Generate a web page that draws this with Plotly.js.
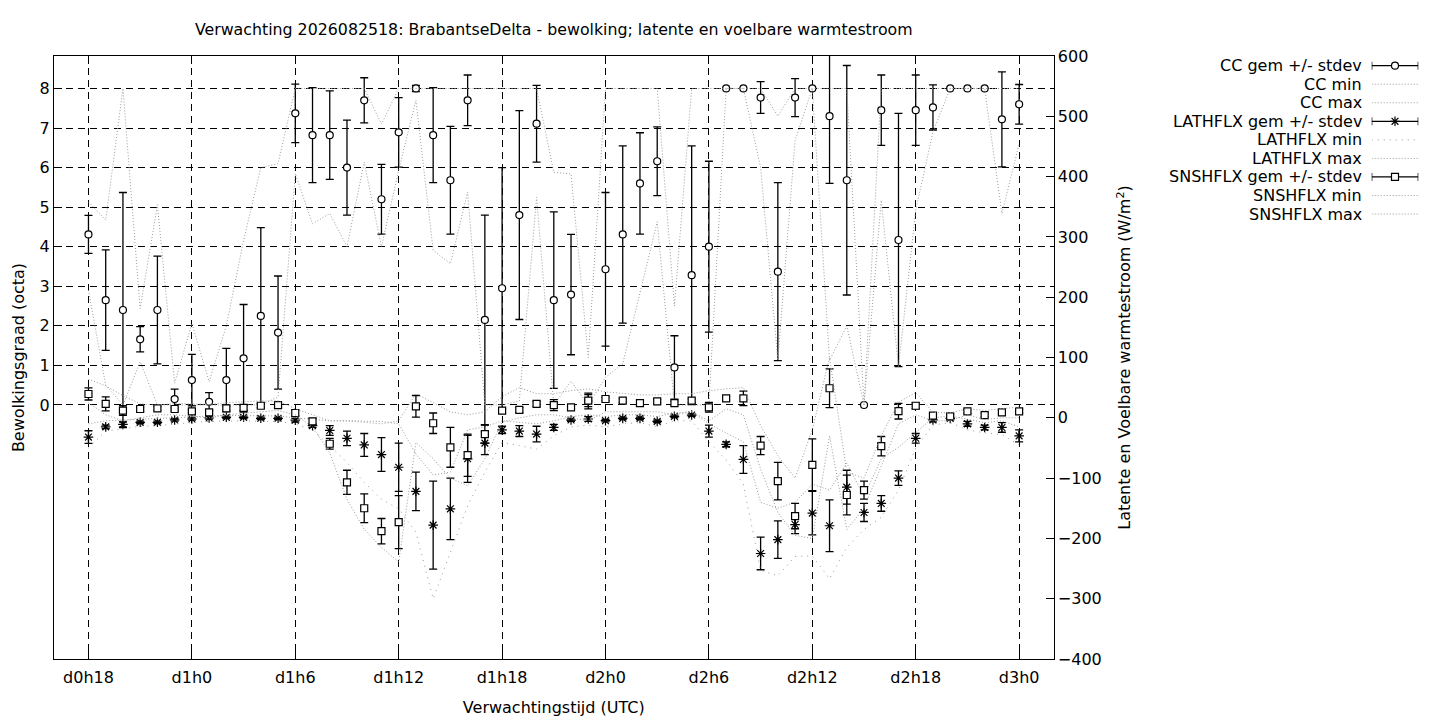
<!DOCTYPE html>
<html>
<head>
<meta charset="utf-8">
<script src="https://cdn.plot.ly/plotly-3.0.1.min.js"></script>
<style>
  html, body { margin: 0; padding: 0; background: #fff; }
  #plot { width: 1440px; height: 720px; }
</style>
</head>
<body>
<div id="plot"></div>
<script>
// forecast hours since d0h0
const hours = [18, 19, 20, 21, 22, 23, 24, 25, 26, 27, 28, 29,
  30, 31, 32, 33, 34, 35, 36, 37, 38, 39, 40, 41,
  42, 43, 44, 45, 46, 47, 48, 49, 50, 51, 52, 53,
  54, 55, 56, 57, 58, 59, 60, 61, 62, 63, 64, 65,
  66, 67, 68, 69, 70, 71, 72];

const xTickVals = [18, 24, 30, 36, 42, 48, 54, 60, 66, 72];
const xTickText = ['d0h18', 'd1h0', 'd1h6', 'd1h12', 'd1h18', 'd2h0', 'd2h6', 'd2h12', 'd2h18', 'd3h0'];
const ccTickVals = [0, 1, 2, 3, 4, 5, 6, 7, 8];
const fluxTickVals = [-400, -300, -200, -100, 0, 100, 200, 300, 400, 500, 600];

// bewolking (octa)
const ccMean = [4.31, 2.65, 2.40, 1.66, 2.40, 0.15, 0.63, 0.08, 0.63, 1.18, 2.25, 1.83,
  7.37, 6.82, 6.82, 6.00, 7.70, 5.20, 6.89, 8.00, 6.82, 5.68, 7.70, 2.15,
  2.95, 4.80, 7.11, 2.65, 2.79, 0.10, 3.43, 4.31, 5.60, 6.16, 0.95, 3.28,
  4.00, 8.00, 8.00, 7.77, 3.37, 7.77, 8.00, 7.30, 5.68, 0.00, 7.45, 4.17,
  7.45, 7.52, 8.00, 8.00, 8.00, 7.22, 7.60];
const ccSd = [0.48, 1.27, 2.97, 0.32, 1.36, 0.25, 0.65, 0.23, 0.80, 1.36, 2.23, 1.43,
  0.74, 1.20, 1.12, 1.20, 0.57, 0.88, 0.88, 0.08, 1.20, 1.36, 0.64, 2.65,
  3.05, 2.64, 0.97, 2.23, 1.52, 0.20, 1.94, 2.24, 1.28, 0.87, 0.80, 3.27,
  2.16, 0, 0, 0.40, 2.25, 0.48, 0, 1.70, 2.90, 0, 0.89, 3.20,
  0.89, 0.57, 0, 0, 0, 1.20, 0.50];
const ccMin = [2.90, 0.50, 0.00, 1.09, 0.00, 0.00, 0.00, 0.00, 0.00, 0.00, 0.00, 0.20,
  5.85, 4.58, 4.84, 4.00, 6.14, 4.00, 5.93, 7.70, 3.91, 3.57, 5.38, 0.00,
  0.00, 0.10, 5.25, 0.00, 0.60, 0.00, 0.70, 1.04, 2.85, 4.63, 0.00, 0.00,
  0.00, 8.00, 8.00, 6.00, 1.13, 6.68, 8.00, 1.13, 2.00, 0.00, 5.17, 0.96,
  4.92, 6.90, 8.00, 8.00, 8.00, 4.84, 6.60];
const ccMax = [5.13, 4.67, 8.00, 2.44, 5.06, 0.55, 2.06, 0.59, 2.00, 4.16, 6.00, 6.10,
  8.00, 8.00, 8.00, 8.00, 8.00, 7.10, 8.00, 8.00, 8.00, 8.00, 8.00, 8.00,
  8.00, 8.00, 8.00, 5.88, 5.84, 1.20, 8.00, 8.00, 8.00, 8.00, 2.50, 8.00,
  8.00, 8.00, 8.00, 8.00, 7.30, 8.00, 8.00, 8.00, 8.00, 0.00, 8.00, 8.00,
  8.00, 8.00, 8.00, 8.00, 8.00, 8.00, 8.00];

// latente warmtestroom (W/m2)
const lhMean = [-32, -15, -11, -7.5, -7.5, -3.6, -2, -0.3, 0.8, 0.8, -0.8, -0.8,
  -4, -13, -21, -34, -45, -61, -82, -122, -178, -151, -68, -42,
  -20, -22, -27, -16, -3.7, -2, -4.8, -0.9, -0.9, -5.9, 2.4, 4.6,
  -22, -44, -69, -225, -202, -177, -158, -179, -115, -157, -142, -100,
  -34, -3.6, -0.9, -10, -16, -16, -30];
const lhSd = [10.5, 3, 4, 2, 2, 2, 2, 2, 2, 2, 2, 2,
  3, 3, 8, 12, 19, 28, 40, 32, 73, 51, 39, 19,
  6, 9, 13, 5, 2, 4, 2, 2, 2, 2, 2, 2,
  10, 4, 23, 27, 31, 15, 36, 43, 28, 15, 13, 12,
  8, 3, 2, 4, 4, 8, 10];
const lhMin = [-50, -22, -18, -14, -13, -10, -8, -6, -5, -5, -6, -6,
  -10, -20, -46, -74, -107, -135, -151, -190, -300, -223, -146, -90,
  -41, -46, -52, -30, -15, -12, -15, -10, -8, -15, -5, -5,
  -40, -70, -110, -253, -262, -230, -229, -267, -215, -185, -165, -120,
  -50, -12, -8, -20, -25, -28, -45];
const lhMax = [-10, -5, -4, -2, -1, 0, 2, 3, 4, 4, 3, 3,
  0, -3, -5, -5, -6, -6, -10, -60, -95, -90, -20, -15,
  -5, -8, -10, -5, 2, 5, 2, 5, 5, 2, 8, 10,
  -10, -25, -40, -140, -150, -140, -110, -120, -75, -130, -68, -49,
  -24, 0, 3, -3, -8, -5, -15];

// voelbare warmtestroom (W/m2)
const snMean = [39.5, 23, 12, 14.6, 15.7, 14.6, 10.8, 9.1, 15.7, 16.3, 20, 21,
  8, -6, -43, -107, -150, -188, -173, 19, -9, -49, -62, -27,
  12, 13, 23, 21, 17.4, 28.4, 31.2, 28.4, 24.5, 27.3, 24.5, 28.4,
  17.4, 32.3, 32.3, -46, -105, -163, -78, 49, -128, -120, -47, 11,
  20, 3.5, 2.4, 10.8, 4.6, 9.1, 10.8];
const snSd = [10, 11.6, 8, 3, 3, 3, 3, 3, 3, 4, 3, 3,
  5, 5, 9, 20, 24, 21, 44, 18, 17, 33, 35, 15,
  4, 4, 4, 9, 3, 10, 3, 3, 3, 3, 3, 3,
  8, 3, 12, 15, 31, 21, 43, 32, 33, 15, 16, 13,
  5, 3, 3, 3, 3, 3, 3];
const snMin = [25, 5, -5, 0, 5, 5, 2, 0, 5, 8, 10, 12,
  5, -15, -58, -135, -185, -215, -239, -41, -68, -100, -113, -68,
  -7, 0, 5, 5, 0, -5, 10, 10, 10, 10, 5, 10,
  -5, 15, 5, -85, -157, -195, -200, -30, -185, -150, -80, -10,
  5, -5, -5, 5, -3, 0, 0];
const snMax = [64, 53, 37, 23, 21, 24, 23, 22, 25, 27, 28, 28,
  15, 5, -5, -5, -8, -10, -5, 40, 25, 10, 5, 10,
  35, 50, 40, 40, 45, 48, 43, 40, 38, 38, 40, 40,
  45, 48, 50, -13, -63, -100, -20, 100, -90, -100, -30, 26,
  42, 9, 8, 15, 12, 15, 18];

const legendLabels = ['CC gem +/- stdev', 'CC min', 'CC max',
  'LATHFLX gem +/- stdev', 'LATHFLX min', 'LATHFLX max',
  'SNSHFLX gem +/- stdev', 'SNSHFLX min', 'SNSHFLX max'];

const FONT = 'DejaVu Sans, sans-serif';
const GRAY = '#9a9a9a';
const FINE = '1px,2px';
const SPARSE = '1px,5px';

// pixel layout of the gnuplot frame
const W = 1440, H = 720;
const L = 54, R = 10, T = 56, B = 61;
const plotW = W - L - R, plotH = H - T - B;
const xDomEnd = (1053.6 - L) / plotW;

function markerFor(symbol) {
  if (symbol === 'asterisk-open') {
    return { symbol, size: 8, color: '#000', line: { color: '#000', width: 1.2 } };
  }
  return { symbol, size: 7, color: '#fff', line: { color: '#000', width: 1.2 } };
}

function meanTrace(y, sd, symbol, yaxis) {
  return {
    type: 'scatter', mode: 'markers', x: hours, y, yaxis,
    marker: markerFor(symbol),
    error_y: { type: 'data', array: sd, visible: true, color: '#000', thickness: 1.3, width: 4 },
    hoverinfo: 'skip', showlegend: false
  };
}

function rangeTrace(y, dash, yaxis) {
  return {
    type: 'scatter', mode: 'lines', x: hours, y, yaxis,
    line: { color: GRAY, width: 1, dash },
    hoverinfo: 'skip', showlegend: false
  };
}

const data = [
  meanTrace(ccMean, ccSd, 'circle', 'y'),
  rangeTrace(ccMin, FINE, 'y'),
  rangeTrace(ccMax, FINE, 'y'),
  meanTrace(lhMean, lhSd, 'asterisk-open', 'y2'),
  rangeTrace(lhMin, SPARSE, 'y2'),
  rangeTrace(lhMax, FINE, 'y2'),
  meanTrace(snMean, snSd, 'square', 'y2'),
  rangeTrace(snMin, FINE, 'y2'),
  rangeTrace(snMax, FINE, 'y2')
];

// legend, drawn gnuplot style: label right aligned, sample to the right
const legendKinds = [
  { err: 'circle' }, { dash: FINE }, { dash: FINE },
  { err: 'asterisk-open' }, { dash: SPARSE }, { dash: FINE },
  { err: 'square' }, { dash: FINE }, { dash: FINE }
];
const annotations = [];
legendLabels.forEach((label, i) => {
  const py = 65.7 + 18.54 * i;
  const v = (H - B) - py;
  annotations.push({
    xref: 'paper', yref: 'paper', x: (1363.5 - L) / plotW, y: v / plotH,
    xanchor: 'right', yanchor: 'middle', text: label, showarrow: false,
    font: { family: FONT, size: 16, color: '#000' }
  });
  const kind = legendKinds[i];
  if (kind.err) {
    data.push({
      type: 'scatter', mode: 'lines', xaxis: 'x3', yaxis: 'y3',
      x: [0, 0, null, 0, 1, null, 1, 1], y: [v - 4, v + 4, null, v, v, null, v - 4, v + 4],
      line: { color: '#000', width: 1.3 }, hoverinfo: 'skip', showlegend: false
    });
    data.push({
      type: 'scatter', mode: 'markers', xaxis: 'x3', yaxis: 'y3', x: [0.5], y: [v],
      marker: markerFor(kind.err), hoverinfo: 'skip', showlegend: false
    });
  } else {
    data.push({
      type: 'scatter', mode: 'lines', xaxis: 'x3', yaxis: 'y3', x: [0, 1], y: [v, v],
      line: { color: GRAY, width: 1, dash: kind.dash }, hoverinfo: 'skip', showlegend: false
    });
  }
});

const axisFont = { family: FONT, size: 16, color: '#000' };

const layout = {
  width: W, height: H,
  margin: { l: L, r: R, t: T, b: B, pad: 0 },
  paper_bgcolor: '#fff', plot_bgcolor: '#fff',
  font: axisFont,
  showlegend: false,
  title: {
    text: 'Verwachting 2026082518: BrabantseDelta - bewolking; latente en voelbare warmtestroom',
    font: { family: FONT, size: 15.8, color: '#000' }, xref: 'paper', x: xDomEnd / 2, xanchor: 'center',
    yref: 'container', y: 1 - 29 / H, yanchor: 'middle'
  },
  xaxis: {
    domain: [0, xDomEnd], range: [16, 74], tickvals: xTickVals, ticktext: xTickText,
    ticks: 'inside', ticklen: 8, tickcolor: '#000', showline: true, linecolor: '#000',
    linewidth: 1, mirror: 'ticks', showgrid: true, gridcolor: '#000', gridwidth: 1,
    griddash: '7px,5px', zeroline: false, tickfont: axisFont, ticklabelstandoff: 4,
    title: { text: 'Verwachtingstijd (UTC)', font: axisFont, standoff: 15 }
  },
  yaxis: {
    range: [-6.42, 8.82], tickvals: ccTickVals, ticks: 'inside', ticklen: 8,
    tickcolor: '#000', showline: true, linecolor: '#000', linewidth: 1,
    showgrid: true, gridcolor: '#000', gridwidth: 1, griddash: '7px,5px',
    zeroline: false, tickfont: axisFont,
    title: { text: 'Bewolkingsgraad (octa)', font: axisFont, standoff: 11 }
  },
  yaxis2: {
    overlaying: 'y', side: 'right', anchor: 'x', range: [-400, 600],
    tickvals: fluxTickVals, ticks: 'inside', ticklen: 8, tickcolor: '#000',
    showline: true, linecolor: '#000', linewidth: 1, showgrid: false, zeroline: false,
    tickfont: axisFont,
    title: { text: 'Latente en Voelbare warmtestroom (W/m<sup>2</sup>)', font: axisFont, standoff: 18 }
  },
  xaxis3: {
    domain: [(1371.7 - L) / plotW, (1418.3 - L) / plotW], range: [0, 1], anchor: 'y3',
    visible: false, fixedrange: true
  },
  yaxis3: {
    domain: [0, 1], range: [0, plotH], anchor: 'x3', visible: false, fixedrange: true
  },
  annotations
};

Plotly.newPlot('plot', data, layout, { displayModeBar: false, staticPlot: true });
</script>
</body>
</html>
